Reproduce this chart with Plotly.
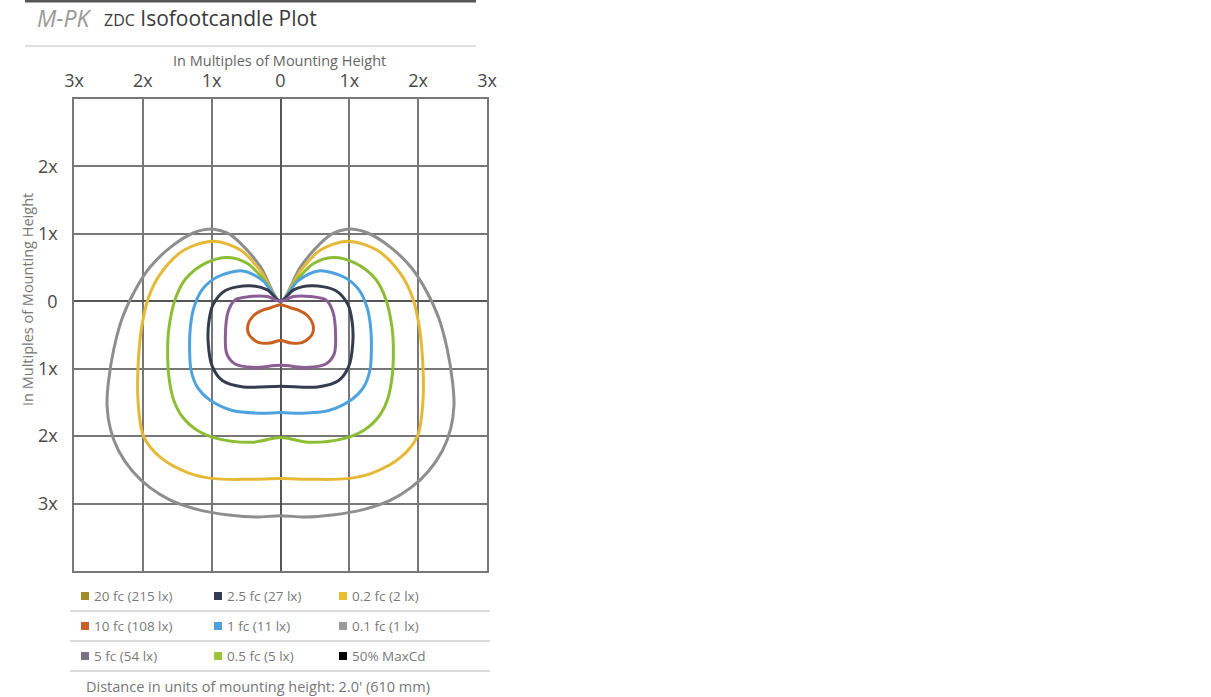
import plotly.graph_objects as go

# Isofootcandle contours, right half only (x >= 0), in multiples of mounting height
# the left half is the mirror image
gray_x = [0, 0.29, 0.58, 0.77, 0.97, 1.25, 1.60, 1.90, 2.12, 2.30, 2.42, 2.50, 2.52, 2.47, 2.35, 2.15, 1.90, 1.60, 1.20, 0.75, 0.35, 0]
gray_y = [0, 0.51, 0.86, 1.01, 1.07, 1.02, 0.80, 0.50, 0.15, -0.25, -0.70, -1.20, -1.55, -1.90, -2.22, -2.52, -2.76, -2.95, -3.09, -3.17, -3.20, -3.18]

yellow_x = [0, 0.29, 0.58, 0.97, 1.40, 1.75, 1.92, 2.02, 2.07, 2.07, 1.99, 1.74, 1.35, 0.97, 0.45, 0]
yellow_y = [0, 0.45, 0.76, 0.89, 0.76, 0.40, 0.05, -0.40, -0.98, -1.47, -2.00, -2.32, -2.54, -2.63, -2.64, -2.63]

green_x = [0, 0.25, 0.48, 0.76, 1.08, 1.38, 1.53, 1.62, 1.64, 1.62, 1.55, 1.42, 1.20, 0.90, 0.40, 0]
green_y = [0, 0.33, 0.56, 0.65, 0.57, 0.33, 0.03, -0.39, -0.73, -1.13, -1.47, -1.72, -1.92, -2.04, -2.09, -2.02]

blue_x = [0, 0.25, 0.55, 0.92, 1.14, 1.26, 1.31, 1.32, 1.30, 1.21, 1.03, 0.70, 0.30, 0]
blue_y = [0, 0.30, 0.45, 0.36, 0.17, -0.10, -0.39, -0.73, -1.02, -1.27, -1.46, -1.62, -1.66, -1.65]

navy_x = [0, 0.19, 0.45, 0.80, 0.98, 1.04, 1.05, 0.99, 0.84, 0.54, 0]
navy_y = [0, 0.17, 0.23, 0.16, -0.05, -0.30, -0.62, -0.97, -1.18, -1.27, -1.26]

purple_x = [0, 0.19, 0.44, 0.66, 0.76, 0.80, 0.78, 0.66, 0.40, 0]
purple_y = [0, 0.07, 0.07, 0.02, -0.15, -0.48, -0.78, -0.93, -0.98, -0.95]

orange_x = [0, 0.15, 0.26, 0.39, 0.47, 0.46, 0.32, 0.15, 0]
orange_y = [-0.05, -0.10, -0.13, -0.21, -0.34, -0.49, -0.61, -0.62, -0.58]

contours = [
    ("0.1 fc", gray_x, gray_y, "#8e8e8e"),
    ("0.2 fc", yellow_x, yellow_y, "#e5b935"),
    ("0.5 fc", green_x, green_y, "#8dbd35"),
    ("1 fc", blue_x, blue_y, "#4ea3df"),
    ("2.5 fc", navy_x, navy_y, "#363c4f"),
    ("5 fc", purple_x, purple_y, "#8b5e95"),
    ("10 fc", orange_x, orange_y, "#c8601f"),
]

x_ticks = [-3, -2, -1, 0, 1, 2, 3]
x_labels = ["3x", "2x", "1x", "0", "1x", "2x", "3x"]
y_ticks = [-3, -2, -1, 0, 1, 2]
y_labels = ["3x", "2x", "1x", "0", "1x", "2x"]

legend_labels = [
    "20 fc (215 lx)", "10 fc (108 lx)", "5 fc (54 lx)",
    "2.5 fc (27 lx)", "1 fc (11 lx)", "0.5 fc (5 lx)",
    "0.2 fc (2 lx)", "0.1 fc (1 lx)", "50% MaxCd",
]
legend_colors = [
    "#a08c2a", "#c8602a", "#7d7183",
    "#363c4f", "#4ea3df", "#9cc43a",
    "#e8c030", "#9a9a9a", "#000000",
]

# plot area in pixels
L, R, T, B = 74, 487, 99, 571
W, H = 1211, 697


def px(x):
    return (x - L) / (R - L)


def py(y):
    return (B - y) / (B - T)


fig = go.Figure()

for name, xs, ys, col in contours:
    full_x = list(xs) + [-v for v in reversed(xs)][1:]
    full_y = list(ys) + list(reversed(ys))[1:]
    fig.add_trace(go.Scatter(x=full_x, y=full_y, mode="lines", name=name,
                             line=dict(color=col, width=3, shape="spline", smoothing=0.9),
                             hoverinfo="name", showlegend=False))

grid = dict(showgrid=True, gridcolor="#777777", gridwidth=1.6,
            zeroline=True, zerolinecolor="#555555", zerolinewidth=1.8,
            showline=True, linecolor="#777777", linewidth=1.6, mirror=True,
            ticks="", fixedrange=True)

fig.update_xaxes(range=[-3, 3], side="top", tickvals=x_ticks, ticktext=x_labels,
                 tickfont=dict(family="Open Sans", size=18, color="#4a4a4a"),
                 ticklabelstandoff=3, **grid)
fig.update_yaxes(range=[-4, 3], tickvals=y_ticks, ticktext=y_labels,
                 tickfont=dict(family="Open Sans", size=18, color="#4a4a4a"),
                 ticklabelstandoff=11, **grid)

shapes = []
# top rule and title rule
shapes.append(dict(type="line", xref="paper", yref="paper", x0=px(25), x1=px(476), y0=py(1), y1=py(1),
                   line=dict(color="#555", width=3)))
shapes.append(dict(type="line", xref="paper", yref="paper", x0=px(25), x1=px(476), y0=py(46), y1=py(46),
                   line=dict(color="#c4c4c4", width=1.2)))
for yy in [611, 641, 671]:
    shapes.append(dict(type="line", xref="paper", yref="paper", x0=px(70), x1=px(490), y0=py(yy), y1=py(yy),
                       line=dict(color="#b8b8b8", width=1.2)))

annotations = [
    dict(text="<i>M-PK</i>", x=px(35), y=py(18), xanchor="left", yanchor="middle",
         font=dict(family="Open Sans", size=23, color="#9a9a9a")),
    dict(text="<span style='font-size:16px'>ZDC</span> Isofootcandle Plot", x=px(102), y=py(18),
         xanchor="left", yanchor="middle", font=dict(family="Open Sans", size=21, color="#3a3a3a")),
    dict(text="In Multiples of Mounting Height", x=px(279), y=py(60), xanchor="center", yanchor="middle",
         font=dict(family="Open Sans", size=14.5, color="#666")),
    dict(text="In Multiples of Mounting Height", x=px(27), y=py(300), xanchor="center", yanchor="middle",
         textangle=-90, font=dict(family="Open Sans", size=14.5, color="#777")),
    dict(text="Distance in units of mounting height: 2.0' (610 mm)", x=px(84), y=py(686),
         xanchor="left", yanchor="middle", font=dict(family="Open Sans", size=14.5, color="#777")),
]

col_x = [85, 218, 343]
row_y = [596, 626, 656]
for i, (lab, col) in enumerate(zip(legend_labels, legend_colors)):
    cx = col_x[i // 3]
    cy = row_y[i % 3]
    shapes.append(dict(type="rect", xref="paper", yref="paper",
                       x0=px(cx - 4), x1=px(cx + 4), y0=py(cy + 4), y1=py(cy - 4),
                       fillcolor=col, line=dict(width=0)))
    annotations.append(dict(text=lab, x=px(cx + 7), y=py(cy), xanchor="left", yanchor="middle",
                            font=dict(family="Open Sans", size=13.5, color="#7a7a7a")))

for a in annotations:
    a.update(xref="paper", yref="paper", showarrow=False)

fig.update_layout(
    width=W, height=H,
    margin=dict(l=L, r=W - R, t=T, b=H - B),
    paper_bgcolor="white", plot_bgcolor="white",
    shapes=shapes, annotations=annotations,
    showlegend=False,
)

# drop the page's default body margin so the figure sits at the window's corner
fig.write_html("out.html", config={"displayModeBar": False},
               post_script="document.body.style.margin='0';")
